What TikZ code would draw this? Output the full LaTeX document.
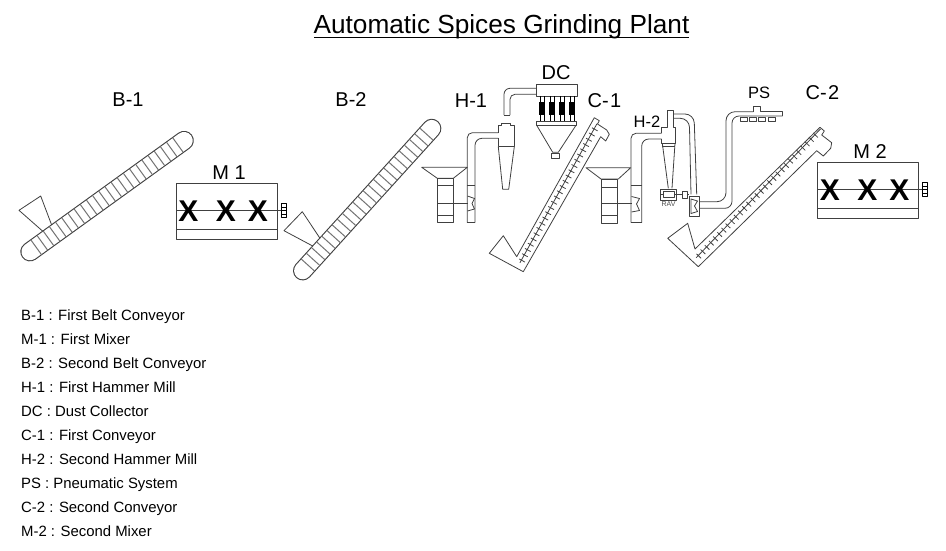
\documentclass[tikz,border=0pt]{standalone}
\usepackage{fontspec}
\setmainfont{Liberation Sans}
\newcommand{\fsz}[1]{\fontsize{#1pt}{#1pt}\selectfont}
\usetikzlibrary{calc}
\definecolor{linecol}{gray}{0.25}
\tikzset{
  lbl/.style={inner sep=0pt,anchor=base,font=\fsz{20}},
  smalllbl/.style={inner sep=0pt,anchor=base,font=\fsz{16.5}},
  legend/.style={inner sep=0pt,anchor=base west,font=\fsz{14.9}},
  mixx/.style={inner sep=0pt,anchor=base,font=\fsz{30}\bfseries},
  eq/.style={draw=linecol,line width=0.8pt,line join=round},
}
\newcommand{\belt}[4]{% x, y, angle, length
  \begin{scope}[shift={(#1,#2)},rotate=#3]
    \draw[black!75,line width=19.4pt,line cap=round] (0,0) -- (#4,0);
    \draw[white,line width=17.2pt,line cap=round] (0,0) -- (#4,0);
    \foreach \s in {1,...,24} \draw[draw=black!55,line width=1pt] ({\s*#4/25},-9) -- ({\s*#4/25},9);
  \end{scope}
}
\newcommand{\rail}[4]{% x, y, angle, length
  \begin{scope}[shift={(#1,#2)},rotate=#3]
    \draw[eq] (6,0) -- (#4,0);
    \pgfmathtruncatemacro{\nt}{floor((#4-8)/6)}
    \foreach \s in {1,...,\nt} \draw[eq] ({3+\s*6},-2.5) -- ({3+\s*6},4);
  \end{scope}
}
\newcommand{\mixer}[2]{% x left, y top
  \draw[eq] (#1,#2) rectangle ++(101,56.3);
  \draw[eq] (#1,#2+46) -- ++(101,0);
  \draw[eq] (#1,#2+27) -- ++(105,0);
  \draw[eq,black,fill=white] (#1+105.5,#2+20) rectangle ++(5,14);
  \foreach \d in {1,2,3} \draw[black,line width=0.6pt] (#1+105.5,#2+20+3.5*\d) -- ++(5,0);
  \node[mixx] at (#1+12.5,#2+38.4) {X};
  \node[mixx] at (#1+50,#2+38.4) {X};
  \node[mixx] at (#1+82,#2+38.4) {X};
}
\begin{document}
\begin{tikzpicture}[x=1pt,y=-1pt]
\useasboundingbox (0,0) rectangle (946,550);
% title
\node[inner sep=0pt,anchor=base,font=\fsz{26.2}] (title) at (501.5,33) {Automatic Spices Grinding Plant};
\draw[black,line width=1.3pt] (314,37.5) -- (689,37.5);
% labels
\node[lbl] (b1) at (128,106) {B-1};
\node[lbl] (b2) at (351,106) {B-2};
\node[lbl] (h1) at (471,107) {H-1};
\node[lbl] (dc) at (556,79) {DC};
\node[lbl] (c1) at (604.5,107) {C-\kern1.5pt 1};
\node[smalllbl] (h2) at (647,127) {H-2};
\node[smalllbl] (ps) at (759,98) {PS};
\node[lbl] (c2) at (822.5,99) {C-\kern1.5pt 2};
\node[lbl] (m1) at (229,179.3) {M 1};
\node[lbl] (m2) at (870,158.3) {M 2};
% belts
\draw[eq] (43.3,231.7) -- (19,210.3) -- (40.7,196) -- (52.3,226.7);
\belt{30}{251.7}{35.8}{190}
\draw[eq] (312.7,246) -- (284,230.7) -- (302.3,211.7) -- (320,238.3);
\belt{302.7}{270.7}{47.8}{192}
% mixers
\mixer{176}{183.3}
\mixer{817.3}{162.3}
% H-1
\draw[eq] (421.7,167.3) -- (467.3,167.3) -- (453.3,178.3) -- (437.3,178.3) -- cycle;
\draw[eq] (437.3,178.3) rectangle (453.3,222.7);
\foreach \y in {185,203.3,215} \draw[eq] (437.3,\y) -- (453.3,\y);
\draw[eq] (453.3,203.3) -- (468,203.3);
\draw[eq,rounded corners=5pt] (467.3,222.7) -- (467.3,132.7) -- (498.3,132.7);
\draw[eq,rounded corners=7pt] (475,222.7) -- (475,138.3) -- (498.3,138.3);
\draw[eq] (467.3,222.7) -- (475,222.7) (467.3,185) -- (475,185);
\draw[eq] (467.5,196) -- (474.5,198.5) -- (472,203.5) -- (474.5,209) -- (467.5,211);
% cyclone 1
\draw[eq] (498.3,132.7) -- (498.3,125) -- (501.5,125) -- (501.5,123.5) -- (510,123.5) -- (510,125) -- (514.3,125) -- (514.3,146.7) -- (498.3,146.7) -- (498.3,138.3);
\draw[eq] (498.3,146.7) -- (502.7,189.3) -- (508.7,189.3) -- (514.3,146.7);
% duct to DC
\draw[eq] (504,115) -- (510,115);
\draw[eq,rounded corners=6pt] (504,115) -- (504,88.3) -- (536,88.3);
\draw[eq,rounded corners=5pt] (510,115) -- (510,94.3) -- (536,94.3);
% DC
\draw[eq] (536,84.3) rectangle (577.7,96);
\foreach \x in {539.3,549.3,559.3,569.3} {
  \fill[black] (\x,101.7) rectangle ++(5.3,13.3);
  \draw[black,line width=0.6pt] (\x+0.7,96) -- ++(0,25.5) (\x+4.6,96) -- ++(0,25.5);
}
\draw[eq] (536.7,121) rectangle (576,125.3);
\draw[eq] (536.7,125.3) -- (552.7,152.3) -- (558.3,152.3) -- (576,125.3);
\draw[eq] (551.7,153.3) rectangle (559,158.3);
% C-1
\draw[eq] (516.7,256.7) -- (503.3,235.7) -- (489.3,253.3) -- (523.3,271.7) -- (600.7,136.7) -- (605.7,141) -- (609.3,134.3) -- (606.7,130) -- (597.5,124) -- (599.3,120.7) -- (594.3,117.7) -- cycle;
\rail{517}{268}{61}{165}
% H-2
\draw[eq] (586,167.7) -- (630.7,167.7) -- (618.3,179) -- (601,179) -- cycle;
\draw[eq] (601,179) rectangle (617.3,223.3);
\foreach \y in {187.3,203.3,215} \draw[eq] (601,\y) -- (617.3,\y);
\draw[eq] (617.3,203.3) -- (632,203.3);
\draw[eq,rounded corners=5pt] (631,222.7) -- (631,133.3) -- (661.7,133.3);
\draw[eq,rounded corners=7pt] (641.7,222.7) -- (641.7,139) -- (661.7,139);
\draw[eq] (631,222.7) -- (641.7,222.7) (631,185.7) -- (641.7,185.7);
\draw[eq] (631.5,196.5) -- (639.5,198.5) -- (636.5,204) -- (639.5,210.5) -- (631.5,212);
% cyclone 2
\draw[eq] (661.7,133.3) -- (661.7,127.3) -- (667.3,127.3) -- (667.3,110) -- (673.3,110) -- (673.3,127.3) -- (675,127.3) -- (675,143.3) -- (661.7,143.3) -- (661.7,139);
\draw[eq] (662,146.7) -- (675,146.7);
\draw[eq] (662.3,143.3) -- (668.3,188.3) (672,188.3) -- (675,143.3);
% return pipe
\draw[eq,rounded corners=9pt] (673.3,114) -- (694,114) -- (696.7,194.3);
\draw[eq,rounded corners=9pt] (673.3,118.3) -- (689.3,118.3) -- (691,194.3);
% RAV
\draw[eq] (660.7,189.3) rectangle (676.7,200.7);
\draw[eq] (663.3,191.7) rectangle (674.3,197.3);
\draw[eq] (660.7,194.5) -- (663.3,194.5) (674.3,194.5) -- (682.7,194.5);
\draw[eq] (682.7,191) rectangle (687.3,198.3);
\draw[eq] (687.3,194.5) -- (689,194.5);
\node[inner sep=0pt,font=\fsz{7},text=black!70] (rav) at (668.5,204) {RAV};
% fan 2
\draw[eq,line width=0.9pt] (689,196) rectangle (699.3,216);
\draw[eq] (691,199) -- (697.5,201) -- (694.5,206) -- (697.5,211.5) -- (691,213.5) -- cycle;
% PS pipe
\draw[eq,rounded corners=9pt] (699.3,201.7) -- (726,201.7) -- (726,111.7) -- (753.3,111.7);
\draw[eq] (753.3,111.7) -- (753.3,106) -- (760,106) -- (760,111.7) -- (782.7,111.7) -- (782.7,116);
\draw[eq,rounded corners=7pt] (699.3,208.3) -- (732,208.3) -- (732,116) -- (782.7,116);
\foreach \x in {740,749,758.3,768.3} \draw[eq] (\x,117.3) rectangle ++(7.3,4.4);
% C-2
\draw[eq] (695,249) -- (687.7,223.3) -- (667.7,238.3) -- (698.3,266.7) -- (816.7,150.7) -- (823.3,156) -- (830.7,148.3) -- (831.7,142.7) -- (821.7,135) -- (824.3,131) -- (820,127.3) -- cycle;
\rail{692}{262}{46}{185}
% legend
\node[legend] (l1) at (21,320) {B-1 : First Belt Conveyor};
\node[legend] (l2) at (21,344) {M-1 : First Mixer};
\node[legend] (l3) at (21,368) {B-2 : Second Belt Conveyor};
\node[legend] (l4) at (21,392) {H-1 : First Hammer Mill};
\node[legend] (l5) at (21,416) {DC : Dust Collector};
\node[legend] (l6) at (21,440) {C-1 : First Conveyor};
\node[legend] (l7) at (21,464) {H-2 : Second Hammer Mill};
\node[legend] (l8) at (21,488) {PS : Pneumatic System};
\node[legend] (l9) at (21,512) {C-2 : Second Conveyor};
\node[legend] (l10) at (21,536) {M-2 : Second Mixer};
\end{tikzpicture}
\end{document}
